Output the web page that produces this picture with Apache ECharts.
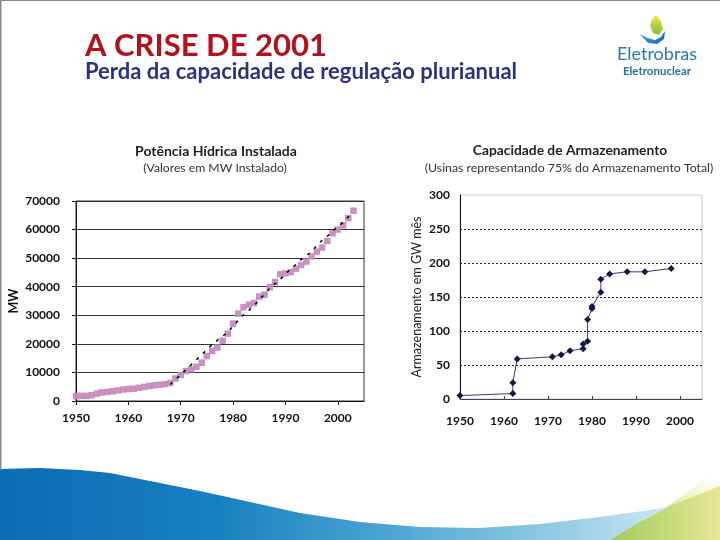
<!DOCTYPE html>
<html>
<head>
<meta charset="utf-8">
<script src="https://cdn.jsdelivr.net/npm/echarts@6/dist/echarts.min.js"></script>
<style>
html,body{margin:0;padding:0;background:#fff;}
#chart{width:720px;height:540px;}
</style>
</head>
<body>
<div id="chart"></div>
<script>
// ---- Data: Potência Hídrica Instalada (MW) ----
var hydroYears = [1950,1951,1952,1953,1954,1955,1956,1957,1958,1959,
                  1960,1961,1962,1963,1964,1965,1966,1967,1968,1969,
                  1970,1971,1972,1973,1974,1975,1976,1977,1978,1979,
                  1980,1981,1982,1983,1984,1985,1986,1987,1988,1989,
                  1990,1991,1992,1993,1994,1995,1996,1997,1998,1999,
                  2000,2001,2002,2003];
var hydroMW = [1700,1800,1800,2000,2600,3000,3200,3400,3700,4000,
               4200,4300,4600,4900,5200,5500,5700,5900,6300,7900,
               9100,10500,11100,12000,13400,15700,17500,18700,21100,23600,
               27100,30600,32800,33700,34300,36600,37200,39900,41600,44400,
               44700,45100,46300,47600,48800,50600,52300,53700,56000,58700,
               60000,61500,64000,66600];
var trendYears = [1968,1970,1972.7,1974,1975.6,1977.1,1979,1981.5,1983.1,1984.5,
                  1987.3,1988.9,1990.2,1993.3,1995,1996.4,1998,1999.4,2001,2002.5];
var trendMW = [5800,9200,13900,16200,19100,21400,24100,29400,31900,34400,
               40000,42400,44800,50000,52300,55300,57700,60100,62500,65400];
var hydroYTicks = [0,10000,20000,30000,40000,50000,60000,70000];

// ---- Data: Capacidade de Armazenamento (GW mês) ----
var storYears = [1950,1962,1962,1963,1971,1973,1975,1978,1978,1979,1979,1980,1980,1982,1982,1984,1988,1992,1998];
var storGW = [5,8,24,59,62,65,71,74,81,85,117,133,136,157,176,184,187,187,192];
var storYTicks = [0,50,100,150,200,250,300];

var xTicks = [1950,1960,1970,1980,1990,2000];

function pairs(xs, ys){ return xs.map(function(x,i){ return [x, ys[i]]; }); }

var FONT = 'Lato';
var chart = echarts.init(document.getElementById('chart'), null, {renderer:'canvas'});

var labelBase = { fontFamily:FONT, fontWeight:'bold', fontSize:12, color:'#111',
                  customValues:xTicks,
                  formatter:function(v){ return (v%10===0)? String(v) : ''; } };

var option = {
  backgroundColor:'#fff',
  animation:false,
  textStyle:{fontFamily:FONT},
  grid:[
    {left:76, top:201, width:288, height:200, show:true, borderColor:'#333', borderWidth:1, backgroundColor:'transparent'},
    {left:460, top:195, width:242, height:204, show:true, borderColor:'#c8c8c8', borderWidth:1, backgroundColor:'transparent'}
  ],
  xAxis:[
    {
      gridIndex:0, type:'value', min:1950, max:2005, interval:10,
      axisLine:{show:true, onZero:false, lineStyle:{color:'#111', width:1}},
      axisTick:{show:true, inside:false, length:4, customValues:xTicks, lineStyle:{color:'#111'}},
      axisLabel:Object.assign({}, labelBase, {margin:11}),
      splitLine:{show:false}
    },
    {
      gridIndex:1, type:'value', min:1950, max:2005, interval:10,
      axisLine:{show:true, onZero:false, lineStyle:{color:'#444', width:1}},
      axisTick:{show:true, inside:true, length:3, customValues:xTicks, lineStyle:{color:'#444'}},
      axisLabel:Object.assign({}, labelBase, {margin:16}),
      splitLine:{show:false}
    }
  ],
  yAxis:[
    {
      gridIndex:0, type:'value', min:0, max:70000, interval:10000,
      name:'MW', nameLocation:'middle', nameRotate:90, nameGap:56,
      nameTextStyle:{fontFamily:FONT, fontWeight:'bold', fontSize:12.5, color:'#111'},
      axisLine:{show:true, lineStyle:{color:'#111', width:1}},
      axisTick:{show:true, length:4, lineStyle:{color:'#111'}},
      axisLabel:{fontFamily:FONT, fontWeight:'bold', fontSize:12, color:'#111', margin:16,
                 formatter:function(v){ return String(v); }},
      splitLine:{show:true, lineStyle:{color:'#333', width:1}}
    },
    {
      gridIndex:1, type:'value', min:0, max:300, interval:50,
      name:'Armazenamento em GW mês', nameLocation:'middle', nameRotate:90, nameGap:37,
      nameTextStyle:{fontFamily:FONT, fontSize:12.5, color:'#222'},
      axisLine:{show:true, lineStyle:{color:'#111', width:1}},
      axisTick:{show:false},
      axisLabel:{fontFamily:FONT, fontWeight:'bold', fontSize:12, color:'#111', margin:10,
                 formatter:function(v){ return String(v); }},
      splitLine:{show:true, showMinLine:false, showMaxLine:false, lineStyle:{color:'#222', width:1, type:[2,2]}}
    }
  ],
  series:[
    {
      type:'line', xAxisIndex:0, yAxisIndex:0, data:pairs(trendYears, trendMW),
      showSymbol:false, symbol:'none', z:3,
      lineStyle:{color:'#000', width:1.5, type:[3,6]}
    },
    {
      type:'scatter', xAxisIndex:0, yAxisIndex:0, data:pairs(hydroYears, hydroMW),
      symbol:'rect', symbolSize:6.5, z:2,
      itemStyle:{color:'#c68cbd', opacity:0.95}
    },
    {
      type:'line', xAxisIndex:1, yAxisIndex:1, data:pairs(storYears, storGW),
      symbol:'diamond', symbolSize:7, showAllSymbol:true,
      lineStyle:{color:'#3a3a78', width:1},
      itemStyle:{color:'#15154e'}
    }
  ],
  graphic:[
    // slide border
    {type:'rect', shape:{x:0, y:0, width:720, height:1}, style:{fill:'#8a8a8a'}, silent:true},
    {type:'rect', shape:{x:0, y:0, width:1.5, height:470}, style:{fill:'#8a8a8a'}, silent:true},
    // header
    {type:'text', x:85, y:46, style:{text:'A CRISE DE 2001', fill:'#b3121c', font:'bold 31px Lato', textVerticalAlign:'middle'}},
    {type:'text', x:85, y:72, style:{text:'Perda da capacidade de regulação plurianual', fill:'#2b3380', font:'bold 22px Lato', textVerticalAlign:'middle'}},
    // logo
    {type:'polygon', shape:{points:[[656,15],[661,21],[663,29],[659,35],[653,33],[650,26],[652,20]]},
      style:{fill:new echarts.graphic.LinearGradient(0,0,0,1,[{offset:0,color:'#f2e43a'},{offset:1,color:'#7bbf45'}])}},
    {type:'polygon', shape:{points:[[640,34],[647,38],[655,40],[661,37],[665,31],[664,39],[657,44],[648,43]]},
      style:{fill:new echarts.graphic.LinearGradient(0,0,1,0,[{offset:0,color:'#2c9ad6'},{offset:1,color:'#1a6eb5'}])}},
    {type:'text', x:657, y:54, style:{text:'Eletrobras', fill:'#2a78b6', font:'18px Lato', textAlign:'center', textVerticalAlign:'middle'}},
    {type:'text', x:657, y:71, style:{text:'Eletronuclear', fill:'#2a6fa8', font:'bold 11.5px Lato', textAlign:'center', textVerticalAlign:'middle'}},
    // chart titles
    {type:'text', x:216, y:151, style:{text:'Potência Hídrica Instalada', fill:'#222', font:'bold 14px Lato', textAlign:'center', textVerticalAlign:'middle'}},
    {type:'text', x:215, y:168, style:{text:'(Valores em MW Instalado)', fill:'#333', font:'12.2px Lato', textAlign:'center', textVerticalAlign:'middle'}},
    {type:'text', x:570, y:151, style:{text:'Capacidade de Armazenamento', fill:'#222', font:'bold 13.8px Lato', textAlign:'center', textVerticalAlign:'middle'}},
    {type:'text', x:569, y:168, style:{text:'(Usinas representando 75% do Armazenamento Total)', fill:'#333', font:'12.3px Lato', textAlign:'center', textVerticalAlign:'middle'}},
    // bottom wave
    {type:'polygon', z:-1, shape:{points:[[0,469],[40,468],[80,470],[110,473],[150,481],[200,491],[250,502],[300,513],[360,522],[420,527],[480,528],[540,524],[600,517],[650,510],[690,503],[720,496],[720,540],[0,540]]},
      style:{fill:new echarts.graphic.LinearGradient(0,0,1,0,[{offset:0,color:'#0a6db5'},{offset:0.3,color:'#1880c0'},{offset:0.55,color:'#4ea6d2'},{offset:0.8,color:'#9ccfe6'},{offset:0.95,color:'#d6ecf3'},{offset:1,color:'#eef6f2'}])}},
    {type:'polygon', z:-1, shape:{points:[[664,508],[685,494],[702,481],[714,470],[720,465],[720,498],[690,503]]},
      style:{fill:new echarts.graphic.LinearGradient(0,1,0.3,0,[{offset:0,color:'#e6ea9a'},{offset:1,color:'#ffffff'}])}},
    {type:'polygon', z:-1, shape:{points:[[610,540],[640,522],[672,505],[700,494],[720,486],[720,540]]},
      style:{fill:new echarts.graphic.LinearGradient(0,0,1,0,[{offset:0,color:'#a2cb5f'},{offset:0.5,color:'#c3da7a'},{offset:1,color:'#e6e994'}])}}
  ]
};
chart.setOption(option);
</script>
</body>
</html>
